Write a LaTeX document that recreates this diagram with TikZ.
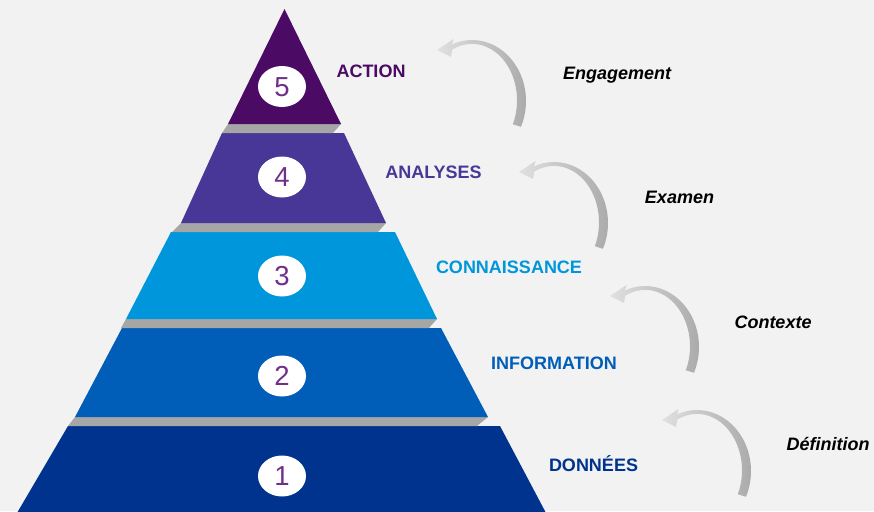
\documentclass[tikz,border=0pt]{standalone}
\usepackage{fontspec}
\setmainfont{Liberation Sans}
\definecolor{bgcol}{HTML}{F2F2F2}
\definecolor{tierA}{HTML}{00338D}
\definecolor{tierB}{HTML}{005EB8}
\definecolor{tierC}{HTML}{0096DB}
\definecolor{tierD}{HTML}{483796}
\definecolor{tierE}{HTML}{4B0B64}
\definecolor{bevel}{HTML}{A6A6A6}
\definecolor{numcol}{HTML}{702F8A}
\definecolor{arrowlight}{HTML}{E0E0E0}
\definecolor{arrowmid}{HTML}{CFCFCF}
\definecolor{arrowdark}{HTML}{AAAAAA}
\tikzset{
  numdisc/.style={ellipse, fill=white, minimum width=48pt, minimum height=41pt, inner sep=0pt},
  numtext/.style={font=\fontsize{27.5}{30}\selectfont, text=numcol, anchor=base, inner sep=0pt},
  tiername/.style={font=\fontsize{18}{20}\selectfont\bfseries, anchor=base, inner sep=0pt},
  stagename/.style={font=\fontsize{18}{20}\selectfont\bfseries\itshape, anchor=base, inner sep=0pt, text=black},
  turnarrow/.pic={
    \shade[left color=arrowlight, middle color=arrowmid, right color=arrowdark]
      (15.03,-5.67) arc[start angle=-111.7, end angle=25, x radius=54, y radius=61]
      -- (75.8,74.24) arc[start angle=25, end angle=-116, x radius=45, y radius=56.5]
      -- (14,7) -- (0,0) -- (16.5,-11) -- cycle;
  }
}
\usetikzlibrary{shapes.geometric}
\begin{document}
\begin{tikzpicture}[x=1pt,y=-1pt]
  \fill[bgcol] (0,0) rectangle (874,511);
  \useasboundingbox (0,0) rectangle (874,511);
  \begin{scope}
    \clip (0,0) rectangle (874,511);
    % pyramid levels, bottom to top
    \fill[tierA] (68,426) -- (500,426) -- (546,513) -- (17,513) -- cycle;
    \fill[bevel] (75,417) -- (488,417) -- (477,426) -- (68,426) -- cycle;
    \fill[tierB] (122,328) -- (441,328) -- (488,417) -- (75,417) -- cycle;
    \fill[bevel] (126,319) -- (437,319) -- (429,328) -- (121,328) -- cycle;
    \fill[tierC] (171,232) -- (395,232) -- (437,319) -- (126,319) -- cycle;
    \fill[bevel] (181,223) -- (386,223) -- (378,232) -- (172,232) -- cycle;
    \fill[tierD] (222,133) -- (344,133) -- (386,223) -- (181,223) -- cycle;
    \fill[bevel] (228,124) -- (341,124) -- (333,133) -- (222,133) -- cycle;
    \fill[tierE] (284.5,9) -- (341,124) -- (228,124) -- cycle;
  \end{scope}

  % numbered discs
  \node[numdisc] (d5) at (282,86.5) {};
  \node[numdisc] (d4) at (282,177) {};
  \node[numdisc] (d3) at (282,276) {};
  \node[numdisc] (d2) at (282,376) {};
  \node[numdisc] (d1) at (282,476) {};
  \node[numtext] (n5) at (282,96.3) {5};
  \node[numtext] (n4) at (282,186.8) {4};
  \node[numtext] (n3) at (282,285.8) {3};
  \node[numtext] (n2) at (282,385.8) {2};
  \node[numtext] (n1) at (282,485.8) {1};

  % level names
  \node[tiername, text=tierE] (action) at (371,77.5) {ACTION};
  \node[tiername, text=tierD] (analyses) at (433.5,178.5) {ANALYSES};
  \node[tiername, text=tierC] (connaissance) at (509,273.5) {CONNAISSANCE};
  \node[tiername, text=tierB] (information) at (554,369.5) {INFORMATION};
  \node[tiername, text=tierA] (donnees) at (593.5,471.5) {DONNÉES};

  % transition arrows
  \pic at (437,50) {turnarrow};
  \pic at (519,172) {turnarrow};
  \pic at (610,296) {turnarrow};
  \pic at (662,420) {turnarrow};

  % transition names
  \node[stagename] (engagement) at (617,79.5) {Engagement};
  \node[stagename] (examen) at (679.5,203.5) {Examen};
  \node[stagename] (contexte) at (773,328.5) {Contexte};
  \node[stagename] (definition) at (828,450.5) {Définition};
\end{tikzpicture}
\end{document}
